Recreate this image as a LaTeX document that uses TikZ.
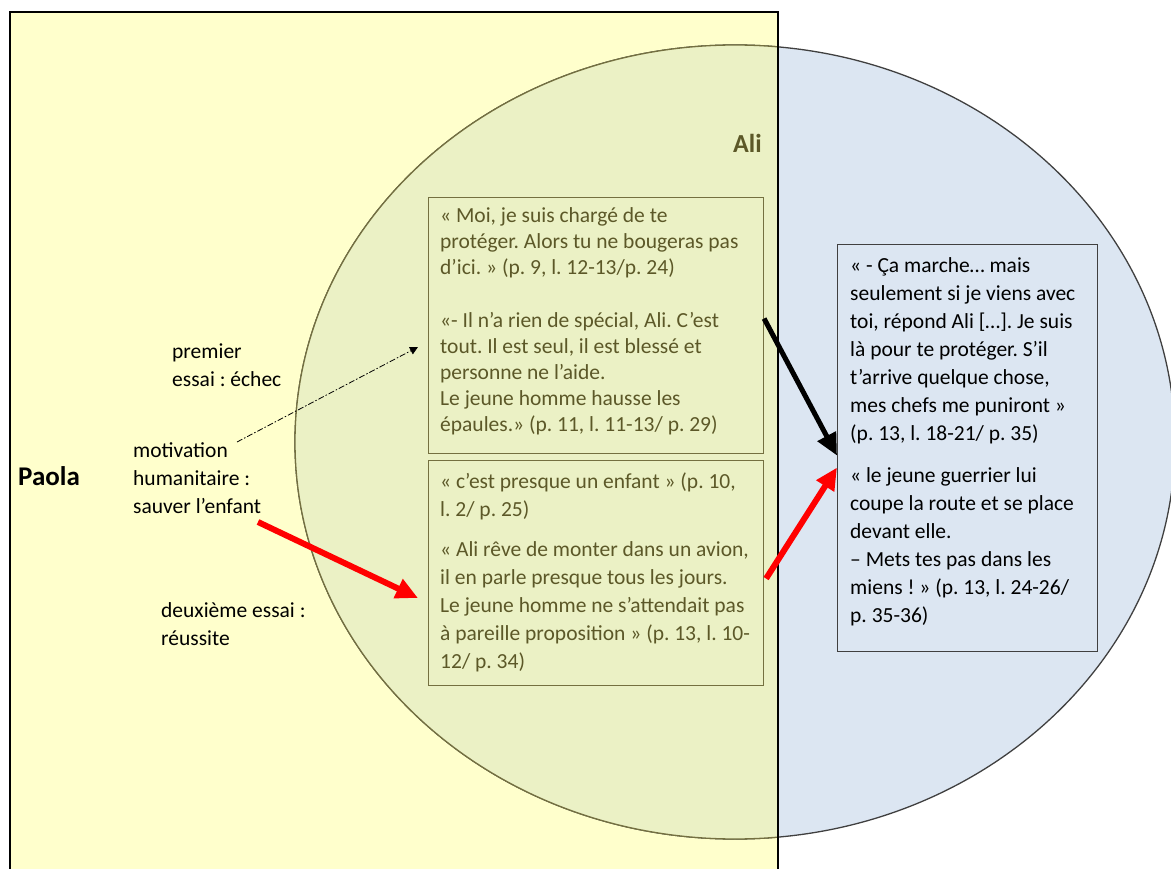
\documentclass[tikz,border=0pt]{standalone}
\usepackage{fontspec}
\setmainfont{Carlito}
\usetikzlibrary{arrows.meta}
\definecolor{paleyellow}{RGB}{255,255,204}
\definecolor{paleblue}{RGB}{220,230,242}
\definecolor{overlapgreen}{RGB}{235,241,197}
\definecolor{olivetext}{RGB}{92,88,40}
\definecolor{oliveline}{RGB}{116,112,64}
\definecolor{rimgray}{RGB}{64,64,64}
\frenchspacing

\begin{document}
\begin{tikzpicture}[x=1pt,y=-1pt,font=\fontsize{21.5}{28}\selectfont,
  quotebox/.style={draw=#1,line width=1.1pt,inner sep=0pt,anchor=north west},
  quotetext/.style={anchor=base west,align=left,inner sep=0pt},
  fat/.style={line width=#1,-{Triangle[length=22pt,width=20pt]}}]
  \useasboundingbox (0,0) rectangle (1171,869);
  \fill[paleyellow] (10,12) rectangle (778,890);
  \filldraw[fill=paleblue,draw=rimgray,line width=1.3pt] (735,442) ellipse [x radius=440,y radius=397];
  \begin{scope}
    \clip (10,12) rectangle (778,890);
    \filldraw[fill=overlapgreen,draw=oliveline,line width=1.3pt] (735,442) ellipse [x radius=440,y radius=397];
  \end{scope}
  \draw[line width=2pt] (10,890) -- (10,12) -- (778,12) -- (778,890);

  \node[quotetext,font=\bfseries\fontsize{27}{30}\selectfont] (paola) at (18,485) {Paola};
  \node[quotetext,font=\bfseries\fontsize{26}{30}\selectfont,text=olivetext] (ali) at (733,153) {Ali};

  \node[quotebox=oliveline,minimum width=335pt,minimum height=256pt] (quoteA) at (428,197) {};
  \node[quotebox=oliveline,minimum width=335pt,minimum height=225pt] (quoteB) at (428,460) {};
  \node[quotebox=rimgray,minimum width=260pt,minimum height=407pt] (quoteC) at (837,244) {};

  \node[quotetext,text=olivetext,font=\fontsize{21.5}{26}\selectfont] (textA) at (440,431)
    {« Moi, je suis chargé de te\\protéger. Alors tu ne bougeras pas\\d’ici. » (p. 9, l. 12-13/p. 24)\\[27pt]%
     «- Il n’a rien de spécial, Ali. C’est\\tout. Il est seul, il est blessé et\\personne ne l’aide.\\Le jeune homme hausse les\\épaules.» (p. 11, l. 11-13/ p. 29)};
  \node[quotetext,text=olivetext] (textB) at (440,668)
    {« c’est presque un enfant » (p. 10,\\l. 2/ p. 25)\\[12pt]%
     « Ali rêve de monter dans un avion,\\il en parle presque tous les jours.\\Le jeune homme ne s’attendait pas\\à pareille proposition » (p. 13, l. 10-\\12/ p. 34)};
  \node[quotetext] (textC) at (850,622)
    {« - Ça marche… mais\\seulement si je viens avec\\toi, répond Ali […]. Je suis\\là pour te protéger. S’il\\t’arrive quelque chose,\\mes chefs me puniront »\\(p. 13, l. 18-21/ p. 35)\\[14pt]%
     « le jeune guerrier lui\\coupe la route et se place\\devant elle.\\– Mets tes pas dans les\\miens ! » (p. 13, l. 24-26/\\p. 35-36)};

  \node[quotetext] (first) at (172,386) {premier\\essai : échec};
  \node[quotetext] (motive) at (133,513) {motivation\\humanitaire :\\sauver l’enfant};
  \node[quotetext] (second) at (161,645) {deuxième essai :\\réussite};

  \coordinate (hint) at (237,442);
  \coordinate (push) at (258,522);
  \coordinate (tryone) at (418,347);
  \coordinate (trytwo) at (418,598);
  \draw[line width=0.8pt,dash pattern=on 6pt off 2pt on 1.5pt off 2pt,-{Triangle[length=8pt,width=8pt]}] (hint) -- (tryone);
  \draw[fat=6pt,red] (push) -- (trytwo);
  \draw[fat=5pt,black] ([yshift=7pt]quoteA.east) -- ([yshift=-7.5pt]quoteC.west);
  \draw[fat=6pt,red] ([xshift=2pt,yshift=-5.5pt]quoteB.east) -- ([yshift=-19.5pt]quoteC.west);
\end{tikzpicture}
\end{document}
